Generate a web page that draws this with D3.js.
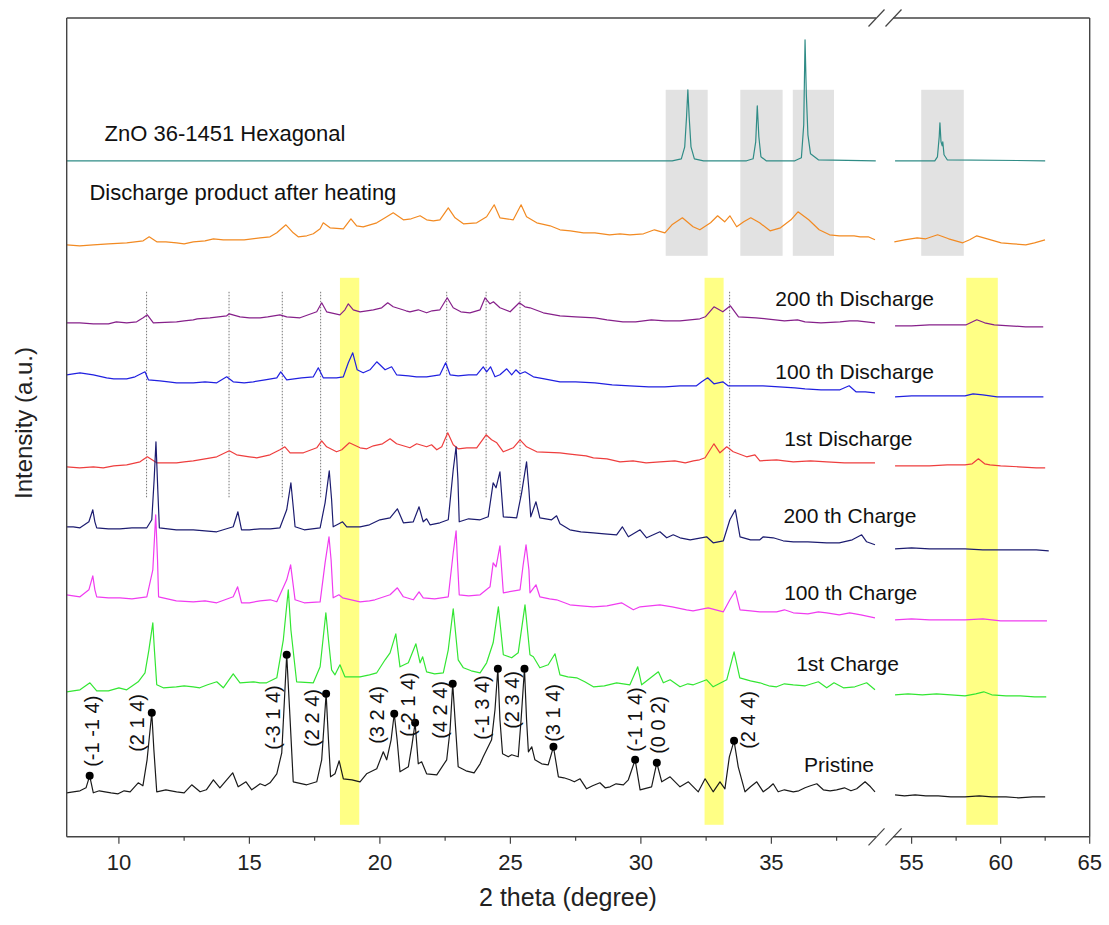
<!DOCTYPE html>
<html lang="en">
<head>
<meta charset="utf-8">
<title>XRD patterns</title>
<style>
	body { margin: 0; background: #fff; }
	svg { display: block; font-family: Arial, "Liberation Sans", sans-serif; }
</style>
</head>
<body>
<div id="chart"></div>
<script src="https://cdn.jsdelivr.net/npm/d3@7/dist/d3.min.js"></script>
<script>

// ---- data: [2theta (deg), stacked intensity (a.u.)] ----
// each array: main readings, then finer readings of the background (sorted before drawing)
const znoRef = [[8.00,676],[31.20,676],[31.55,678],[31.68,690],[31.75,720],[31.80,747],[31.85,720],[31.92,690],[32.05,678],[32.40,676],
	[34.05,676],[34.30,678],[34.40,695],[34.46,731],[34.52,700],[34.60,680],[34.80,676],
	[35.90,676],[36.15,679],[36.24,712],[36.29,797],[36.34,742],[36.40,702],[36.50,683],[36.80,677],[39.00,676],
	[54.07,676],[56.30,676],[56.45,680],[56.55,700],[56.59,714],[56.65,695],[56.72,691],[56.75,695],[56.82,682],[57.00,677],[62.50,676]];

const heated = [[8.00,592],[9.02,592],[10.30,594],[10.93,596],[11.16,600],[11.45,595],[12.21,594],[12.85,595],[13.62,598],[14.38,597],
	[15.41,599],[15.79,600],[16.05,604],[16.40,612],[16.68,604],[16.87,600],[17.45,603],[17.71,608],[17.83,614],[18.09,609],[18.60,608],
	[18.89,618],[19.11,611],[19.36,610],[19.88,614],[20.51,624],[20.90,617],[21.54,621],[21.79,617],[22.30,617],[22.62,629],[22.88,619],
	[23.20,613],[23.71,614],[24.09,620],[24.38,632],[24.60,619],[25.11,617],[25.41,632],[25.62,620],[26.01,614],[26.52,611],[26.90,607],
	[28.24,604],[29.58,602],[30.52,607],[30.92,604],[31.19,612],[31.59,619],[32.00,610],[32.26,607],[32.67,614],[32.94,621],[33.21,615],
	[33.41,621],[33.67,610],[33.94,615],[34.21,619],[34.55,614],[34.95,606],[35.35,609],[35.75,617],[36.02,625],[36.43,617],[36.83,607],
	[37.23,602],[38.17,601],[38.71,600],[38.97,597],
	[54.03,595],[55.31,599],[56.46,602],[57.08,598],[57.87,594],[58.26,597],[58.66,601],[59.25,598],[60.03,594],[61.41,592],[62.49,597],
	[8.50,591],[9.60,593],[11.80,595],[12.50,593],[13.30,596],[14.00,597],[14.80,597],[17.20,601],[20.20,619],[21.20,618],[22.05,616],
	[27.30,606],[27.80,604],[28.80,602],[29.20,603],[30.10,603],[37.60,601],[38.40,600],[54.60,597],[55.80,598],[60.70,593],[61.90,594]];

const discharge200 = [[8.00,514],[9.02,513],[10.30,514],[10.68,515],[10.93,519],[11.09,522],[11.32,514],[12.21,515],[12.85,517],[13.49,519],
	[14.13,521],[14.23,523],[14.64,520],[15.41,519],[16.17,522],[16.43,520],[16.94,519],[17.58,525],[17.77,534],[17.96,525],[18.47,522],
	[18.66,527],[18.79,533],[18.98,527],[19.24,525],[19.75,527],[20.07,529],[20.30,534],[20.51,530],[21.15,525],[21.47,527],[21.79,524],
	[22.30,527],[22.58,539],[22.81,529],[23.45,524],[23.84,527],[24.03,539],[24.22,533],[24.35,535],[24.60,529],[24.99,525],[25.34,534],
	[25.56,530],[25.75,529],[26.26,524],[26.90,521],[28.24,519],[29.31,515],[30.92,516],[32.26,518],[32.47,520],[32.80,530],[33.14,525],
	[33.43,531],[33.74,520],[34.41,519],[36.29,515],[37.63,515],[38.30,516],[38.97,514],
	[54.07,511],[55.00,511],[56.00,512],[57.00,512],[58.07,512],[58.66,517],[59.10,514],[59.64,512],[60.50,511],[61.40,510],[62.39,510],
	[8.50,514],[9.60,513],[9.90,515],[12.50,516],[13.00,518],[15.00,519],[15.70,520],[19.50,526],[21.00,526],[22.00,526],[23.10,525],
	[27.50,520],[28.70,517],[29.80,515],[30.40,517],[31.50,516],[34.80,518],[35.50,516],[36.00,517],[36.90,514],[38.00,516]];

const discharge100 = [[8.00,462],[8.51,464],[9.02,462],[9.53,459],[10.30,458],[10.62,460],[11.00,465],[11.13,457],[11.57,456],[12.21,454],
	[12.85,454],[13.75,454],[14.13,460],[14.38,455],[15.15,455],[16.05,459],[16.20,465],[16.43,457],[17.45,460],[17.64,469],[17.83,459],
	[18.34,459],[18.60,460],[18.79,474],[18.96,484],[19.13,467],[19.36,464],[19.62,467],[19.88,475],[20.20,467],[20.45,470],[20.64,462],
	[21.79,460],[22.30,462],[22.52,474],[22.69,462],[23.71,462],[23.96,470],[24.09,465],[24.24,470],[24.41,460],[24.60,462],[24.86,468],
	[25.05,462],[25.21,467],[25.37,463],[25.56,465],[25.88,460],[26.90,455],[28.24,454],[29.58,451],[30.92,450],[32.13,451],[32.33,455],
	[32.56,459],[32.80,453],[33.14,455],[33.34,451],[34.68,451],[36.29,448],[37.63,447],[37.98,451],[38.24,445],[38.97,444],
	[54.07,440],[55.00,441],[56.00,441],[57.00,441],[58.00,441],[58.45,443],[59.00,442],[59.80,440],[60.50,440],[61.30,440],[62.40,440],
	[8.25,463],[9.80,458],[11.90,455],[12.50,454],[13.30,455],[14.80,454],[15.60,457],[17.00,459],[21.10,461],[21.40,460],[23.00,461],
	[23.40,462],[26.30,458],[27.50,455],[28.90,452],[30.30,450],[31.50,451],[34.00,451],[35.30,450],[35.90,449],[36.90,447],[38.60,445]];

const discharge1 = [[8.00,370],[9.02,370],[9.40,369],[10.30,372],[10.81,375],[11.09,380],[11.45,374],[12.21,374],[12.85,376],[13.75,380],
	[14.23,386],[14.51,382],[15.28,379],[15.79,382],[16.17,387],[16.36,390],[16.56,384],[17.07,384],[17.58,389],[17.77,396],[17.96,390],
	[18.34,385],[18.54,387],[18.83,394],[19.24,389],[19.75,391],[20.39,398],[20.64,393],[21.15,389],[21.41,393],[21.79,390],[21.98,392],
	[22.18,387],[22.37,390],[22.60,404],[22.81,392],[23.33,389],[23.71,389],[24.07,402],[24.28,397],[24.48,394],[24.73,385],[25.11,389],
	[25.37,397],[25.62,390],[26.01,385],[26.90,384],[27.54,382],[28.18,379],[29.20,375],[30.73,375],[32.01,376],[32.46,379],[32.80,393],
	[33.03,384],[33.29,390],[33.54,385],[34.05,380],[34.37,382],[34.56,376],[35.20,377],[35.84,375],[37.12,375],[38.40,374],[38.97,374],
	[54.07,371],[55.00,371],[56.00,371],[57.00,372],[58.00,372],[58.40,373],[58.75,378],[59.10,373],[59.40,372],[60.00,371],[61.00,370],[62.00,369],[62.50,369],
	[8.50,369],[9.80,371],[12.50,375],[13.30,378],[15.00,380],[19.50,388],[20.10,393],[23.00,388],[27.20,383],[27.90,381],[28.70,378],
	[29.70,376],[30.20,374],[31.30,376],[31.70,374],[32.25,377],[35.50,376],[36.50,376],[37.80,374]];

const charge200 = [[8.00,310],[8.51,309],[8.85,315],[9.00,327],[9.08,315],[9.15,309],[10.04,308],[11.07,309],[11.26,317],[11.35,357],
	[11.42,395],[11.49,347],[11.55,309],[12.85,307],[13.75,305],[14.38,310],[14.56,325],[14.70,307],[15.41,308],[16.17,309],[16.43,327],
	[16.59,354],[16.69,327],[16.75,310],[17.71,309],[17.90,334],[18.06,366],[18.15,337],[18.21,310],[18.43,313],[18.57,315],[18.73,310],
	[19.24,310],[20.00,317],[20.39,319],[20.67,328],[20.90,314],[21.28,315],[21.50,330],[21.66,315],[21.79,318],[21.92,312],[22.62,317],
	[22.81,367],[22.92,390],[22.99,357],[23.04,315],[23.84,317],[24.15,320],[24.34,354],[24.45,349],[24.60,365],[24.73,320],[25.24,319],
	[25.43,344],[25.62,375],[25.71,347],[25.78,320],[25.98,335],[26.13,319],[26.58,317],[26.77,321],[26.90,313],[27.28,307],[28.18,304],
	[29.07,302],[29.29,310],[29.52,300],[29.97,307],[30.22,299],[30.73,305],[30.99,299],[31.24,302],[31.50,299],[31.89,297],[32.52,300],
	[32.77,294],[33.16,296],[33.41,317],[33.62,327],[33.80,300],[34.56,297],[34.69,300],[35.07,299],[35.84,295],[37.12,294],[38.46,302],
	[38.65,295],[38.97,292],
	[54.07,288],[55.00,289],[56.00,288],[57.00,288],[58.00,288],[59.00,287],[60.00,287],[61.00,287],[62.00,287],[62.70,286],
	[8.25,310],[9.60,308],[10.50,309],[12.20,307],[13.30,306],[15.00,307],[15.80,308],[17.10,307],[19.60,312],[22.30,314],[23.40,318],
	[27.70,305],[28.60,303],[34.20,297],[35.45,296],[36.40,295],[37.60,294],[38.10,297]];

const charge100 = [[8.00,242],[8.51,240],[8.85,247],[9.00,261],[9.08,247],[9.15,240],[10.04,239],[11.07,240],[11.30,267],[11.41,322],
	[11.48,277],[11.52,240],[12.85,235],[13.75,234],[14.38,240],[14.55,250],[14.70,234],[15.41,236],[16.05,235],[16.43,257],[16.58,272],
	[16.75,237],[17.71,235],[17.90,274],[18.05,300],[18.13,277],[18.21,239],[18.43,242],[18.57,239],[19.24,235],[19.81,237],[20.39,242],
	[20.67,249],[20.90,240],[21.28,237],[21.50,245],[21.66,239],[22.62,240],[22.81,284],[22.92,306],[22.97,277],[23.04,242],[23.84,242],
	[24.22,250],[24.34,274],[24.45,270],[24.60,291],[24.73,244],[25.37,247],[25.49,272],[25.60,292],[25.71,267],[25.75,244],[25.98,252],
	[26.13,240],[26.77,237],[27.28,232],[28.18,230],[29.26,234],[29.71,227],[29.97,230],[30.73,232],[31.75,227],[32.58,229],[33.16,225],
	[33.41,237],[33.62,246],[33.80,227],[34.56,225],[35.84,224],[37.12,224],[38.43,222],[38.97,219],
	[54.07,217],[55.00,218],[56.00,217],[57.00,217],[58.00,217],[59.00,218],[60.00,216],[61.00,216],[62.00,216],[62.60,216],
	[8.25,241],[9.60,239],[10.50,238],[12.20,236],[13.30,236],[15.00,234],[15.80,237],[17.10,234],[19.60,236],[22.10,238],[23.40,241],
	[26.50,238],[27.70,231],[28.70,231],[31.20,230],[32.00,226],[34.20,226],[35.20,225],[35.50,227],[36.40,223],[36.80,225],[37.60,222],[38.00,224]];

const charge1 = [[8.00,145],[8.51,147],[8.89,154],[9.15,146],[10.30,147],[10.74,155],[11.00,164],[11.15,187],[11.30,214],[11.36,187],
	[11.45,152],[11.70,149],[12.85,150],[13.75,155],[14.00,149],[14.38,163],[14.64,154],[15.15,155],[15.66,154],[16.05,159],[16.30,197],
	[16.49,247],[16.59,207],[16.81,155],[17.45,154],[17.71,170],[17.93,224],[18.03,197],[18.15,167],[18.28,162],[18.47,172],[18.66,160],
	[19.24,160],[19.88,164],[20.20,177],[20.39,184],[20.61,203],[20.77,170],[21.09,174],[21.38,193],[21.54,174],[21.64,180],[21.79,165],
	[22.43,164],[22.62,187],[22.81,228],[23.00,177],[23.20,169],[23.84,164],[24.09,174],[24.34,194],[24.54,230],[24.73,182],[25.05,179],
	[25.30,184],[25.56,232],[25.75,182],[25.88,180],[26.13,169],[26.45,172],[26.71,183],[26.90,162],[27.54,159],[28.18,150],[29.07,154],
	[29.58,152],[29.88,170],[30.03,152],[30.67,165],[30.86,154],[31.12,157],[31.50,150],[32.01,152],[32.52,157],[32.77,150],[33.29,157],
	[33.57,185],[33.79,159],[34.56,154],[35.20,150],[35.84,152],[36.80,155],[37.12,149],[37.76,149],[38.65,154],[38.97,147],
	[54.07,142],[54.80,143],[55.60,142],[56.40,143],[57.20,142],[58.00,141],[58.60,143],[59.05,145],[59.50,142],[60.30,141],[61.10,141],[61.90,140],[62.56,140],
	[8.25,146],[9.60,146],[10.00,149],[12.20,150],[12.50,151],[13.10,149],[13.40,152],[15.40,154],[19.60,162],[22.10,163],[23.50,166],
	[27.20,160],[27.85,155],[28.60,151],[31.80,153],[34.20,156],[34.90,151],[35.50,153],[36.30,151],[37.40,154],[38.20,150]];

const pristine = [[8.00,44],[8.51,46],[8.74,49],[8.88,61],[9.02,44],[9.47,45],[9.97,43],[10.43,45],[10.74,54],[10.92,51],[11.08,77],
	[11.26,124],[11.34,87],[11.45,45],[11.80,47],[12.21,45],[12.79,52],[13.11,45],[13.62,57],[13.87,49],[14.36,64],[14.57,50],[14.87,55],
	[15.09,47],[15.41,53],[15.79,54],[16.05,63],[16.24,84],[16.43,182],[16.56,117],[16.68,55],[17.20,52],[17.58,55],[17.77,77],[17.94,143],
	[18.03,97],[18.11,60],[18.28,63],[18.44,76],[18.60,58],[18.93,57],[19.24,55],[19.49,63],[19.88,68],[20.13,85],[20.26,77],[20.43,97],
	[20.55,123],[20.66,97],[20.77,65],[21.09,70],[21.23,92],[21.35,114],[21.47,73],[21.60,75],[21.79,63],[22.18,62],[22.56,77],[22.69,107],
	[22.79,153],[22.88,117],[23.00,70],[23.30,66],[23.61,64],[23.84,73],[23.96,80],[24.28,97],[24.41,127],[24.52,168],[24.60,117],[24.70,83],
	[24.92,80],[25.05,82],[25.30,80],[25.41,117],[25.54,168],[25.62,117],[25.69,85],[25.82,90],[25.94,77],[26.20,73],[26.45,72],[26.65,90],
	[26.84,60],[27.28,57],[27.67,58],[27.92,48],[28.43,54],[28.82,50],[29.33,52],[29.52,57],[29.78,77],[29.97,47],[30.41,50],[30.61,74],
	[30.80,55],[31.12,60],[31.50,50],[31.82,55],[32.20,45],[32.46,58],[32.77,45],[33.03,55],[33.22,48],[33.39,80],[33.57,96],[33.73,70],
	[33.99,45],[34.44,55],[34.69,45],[35.07,53],[35.26,45],[35.84,45],[36.29,49],[36.74,53],[36.99,47],[37.50,47],[38.27,48],[38.59,55],[38.97,45],
	[54.07,42],[54.60,41],[55.20,42],[55.80,41],[56.50,41],[57.20,40],[58.00,40],[58.80,41],[59.50,40],[60.30,40],[61.00,39],[61.80,40],[62.50,40],
	[8.25,45],[9.25,46],[9.70,44],[10.20,46],[12.00,46],[12.50,44],[13.35,47],[15.60,51],[27.05,59],[27.45,55],[28.15,51],[28.63,49],
	[29.05,53],[34.20,50],[34.90,49],[35.50,47],[36.05,46],[36.50,51],[37.25,46],[37.80,49],[38.05,46],[38.80,50]];

const seriesNames = ["ZnO 36-1451 Hexagonal", "Discharge product after heating", "200 th Discharge", "100 th Discharge",
	"1st Discharge", "200 th Charge", "100 th Charge", "1st Charge", "Pristine"];
const seriesData = [znoRef, heated, discharge200, discharge100, discharge1, charge200, charge100, charge1, pristine];
// label anchors: [2theta, intensity of baseline]
const seriesLabelPos = [[9.45,696],[8.87,637],[35.15,531],[35.15,458],[35.49,391],[35.46,314],[35.49,237],[35.95,166],[36.25,65]];

// indexed reflections of the pristine pattern
const hklLabels = ["(-1 -1 4)","(2 1 4)","(-3 1 4)","(2 2 4)","(3 2 4)","(-2 1 4)","(4 2 4)","(-1 3 4)","(2 3 4)","(3 1 4)","(-1 1 4)","(0 0 2)","(2 4 4)"];
const hklPeaks = [8.88, 11.26, 16.43, 17.94, 20.55, 21.35, 22.79, 24.52, 25.54, 26.65, 29.78, 30.61, 33.57];
const hklLabelX = [8.96, 10.68, 15.92, 17.39, 19.88, 21.09, 22.30, 23.90, 25.05, 26.64, 29.78, 30.67, 34.11];
const hklLabelY = [70, 85, 87, 90, 93, 100, 98, 97, 108, 95, 85, 83, 88];

// guide lines and shaded ranges
const dottedLines = [11.06, 14.22, 16.26, 17.73, 22.56, 24.07, 25.37, 33.40];
const dottedSpan = [339, 545];
const grayBands = [[30.95,32.56],[33.81,35.43],[35.82,37.40],[55.54,57.93]];
const graySpan = [581, 747];
const yellowBands = [[18.47,19.21],[32.44,33.17],[58.07,59.84]];
const yellowSpan = [12, 559];

const majorTicks = [10, 15, 20, 25, 30, 35, 55, 60, 65];
const minorTicks = [12.5, 17.5, 22.5, 27.5, 32.5, 37.5, 57.5, 62.5];

// ---- layout ----
const W = 1109, H = 925;
const colors = ["#2f8c86", "#f28a22", "#86208a", "#2020e0", "#ee3e3e", "#1c1c70", "#f03cf0", "#33e633", "#1a1a1a"];

const breakAt = 40;  // split between the two x ranges
const xL = d3.scaleLinear().domain([8, 39.3]).range([66.7, 883.6]);
const xR = d3.scaleLinear().domain([53.5, 65]).range([884.9, 1089.7]);
const xPos = v => v < breakAt ? xL(v) : xR(v);
const y = d3.scaleLinear().domain([0, 818.8]).range([836.8, 18]);

const svg = d3.select("#chart").append("svg")
	.attr("width", W)
	.attr("height", H);

// shaded bands
svg.append("g").selectAll("rect")
	.data(grayBands)
	.join("rect")
	.attr("x", d => xPos(d[0]))
	.attr("width", d => xPos(d[1]) - xPos(d[0]))
	.attr("y", y(graySpan[1]))
	.attr("height", y(graySpan[0]) - y(graySpan[1]))
	.attr("fill", "#e2e2e2");

svg.append("g").selectAll("rect")
	.data(yellowBands)
	.join("rect")
	.attr("x", d => xPos(d[0]))
	.attr("width", d => xPos(d[1]) - xPos(d[0]))
	.attr("y", y(yellowSpan[1]))
	.attr("height", y(yellowSpan[0]) - y(yellowSpan[1]))
	.attr("fill", "#ffff85");

// dotted guides
svg.append("g").selectAll("line")
	.data(dottedLines)
	.join("line")
	.attr("x1", d => xPos(d)).attr("x2", d => xPos(d))
	.attr("y1", y(dottedSpan[1])).attr("y2", y(dottedSpan[0]))
	.attr("stroke", "#777")
	.attr("stroke-width", 1)
	.attr("stroke-dasharray", "1.5,1.5");

// patterns, drawn as two pieces either side of the break
const line = d3.line()
	.x(d => xPos(d[0]))
	.y(d => y(d[1]));

seriesData.forEach((s, i) => {
	const sorted = s.slice().sort((a, b) => a[0] - b[0]);
	const parts = [sorted.filter(d => d[0] < breakAt), sorted.filter(d => d[0] > breakAt)];
	parts.forEach(p => {
		svg.append("path")
			.datum(p)
			.attr("fill", "none")
			.attr("stroke", colors[i])
			.attr("stroke-width", 1.2)
			.attr("stroke-linejoin", "round")
			.attr("d", line);
	});
});

// peak markers on pristine
function intensityAt(s, tt) {
	let best = s[0];
	s.forEach(d => { if (Math.abs(d[0] - tt) < Math.abs(best[0] - tt)) best = d; });
	return best[1];
}
svg.append("g").selectAll("circle")
	.data(hklPeaks)
	.join("circle")
	.attr("cx", d => xPos(d))
	.attr("cy", d => y(intensityAt(pristine, d)))
	.attr("r", 4)
	.attr("fill", "#000");

svg.append("g").selectAll("text")
	.data(hklLabels)
	.join("text")
	.attr("transform", (d, i) => "translate(" + xPos(hklLabelX[i]) + "," + y(hklLabelY[i]) + ") rotate(-90)")
	.attr("dy", "0.35em")
	.attr("font-size", 20)
	.attr("fill", "#111")
	.text(d => d);

// series labels
svg.append("g").selectAll("text")
	.data(seriesNames)
	.join("text")
	.attr("x", (d, i) => xPos(seriesLabelPos[i][0]))
	.attr("y", (d, i) => y(seriesLabelPos[i][1]))
	.attr("font-size", (d, i) => i < 2 ? 22 : 21)
	.attr("fill", "#111")
	.text(d => d);

// ---- axes ----
const axisColor = "#444";
const yBottom = y(0), yTop = y(818.8);
const gapL = 876, gapR = 893;

const frame = svg.append("g")
	.attr("stroke", axisColor)
	.attr("stroke-width", 1.4)
	.attr("fill", "none");
frame.append("line").attr("x1", xL(8)).attr("x2", xL(8)).attr("y1", yTop).attr("y2", yBottom);
frame.append("line").attr("x1", xR(65)).attr("x2", xR(65)).attr("y1", yTop).attr("y2", yBottom);
[yBottom, yTop].forEach(yy => {
	frame.append("line").attr("x1", xL(8)).attr("x2", gapL).attr("y1", yy).attr("y2", yy);
	frame.append("line").attr("x1", gapR).attr("x2", xR(65)).attr("y1", yy).attr("y2", yy);
	// break marks
	[-8, 9].forEach(off => {
		const cx = (gapL + gapR) / 2 + off;
		frame.append("line")
			.attr("x1", cx - 8).attr("y1", yy + 8.5)
			.attr("x2", cx + 8).attr("y2", yy - 8.5)
			.attr("stroke-width", 1.2);
	});
});

const ticks = svg.append("g")
	.attr("stroke", axisColor)
	.attr("stroke-width", 1.2);
ticks.selectAll("line.major")
	.data(majorTicks)
	.join("line")
	.attr("class", "major")
	.attr("x1", d => xPos(d)).attr("x2", d => xPos(d))
	.attr("y1", yBottom).attr("y2", yBottom + 7);
ticks.selectAll("line.minor")
	.data(minorTicks)
	.join("line")
	.attr("class", "minor")
	.attr("x1", d => xPos(d)).attr("x2", d => xPos(d))
	.attr("y1", yBottom).attr("y2", yBottom + 4);

svg.append("g").selectAll("text")
	.data(majorTicks)
	.join("text")
	.attr("x", d => xPos(d))
	.attr("y", yBottom + 33)
	.attr("text-anchor", "middle")
	.attr("font-size", 22)
	.attr("fill", "#222")
	.text(d => d);

svg.append("text")
	.attr("x", 568)
	.attr("y", 906)
	.attr("text-anchor", "middle")
	.attr("font-size", 25)
	.attr("fill", "#222")
	.text("2 theta (degree)");

svg.append("text")
	.attr("transform", "translate(24,423) rotate(-90)")
	.attr("dy", "0.35em")
	.attr("text-anchor", "middle")
	.attr("font-size", 24)
	.attr("fill", "#222")
	.text("Intensity (a.u.)");

</script>
</body>
</html>
